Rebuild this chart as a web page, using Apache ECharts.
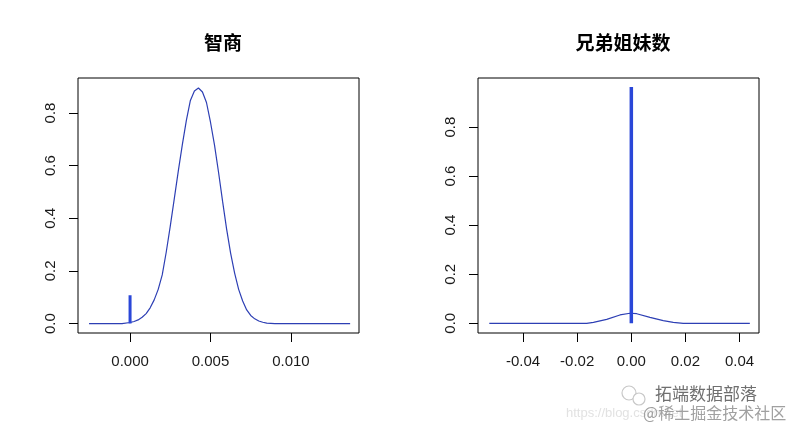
<!DOCTYPE html>
<html>
<head>
<meta charset="utf-8">
<script src="https://cdn.jsdelivr.net/npm/echarts@6/dist/echarts.min.js"></script>
<style>html,body{margin:0;padding:0;background:#fff;}#c{width:800px;height:431px;}</style>
</head>
<body>
<div id="c"></div>
<script>
// Titles
var titleLeft = '智商';
var titleRight = '兄弟姐妹数';

// Left panel: density curve (x, y)
var leftX = [-0.00255, -0.0005, 0.0000, 0.00025, 0.0005, 0.00075, 0.0010, 0.00125, 0.0015, 0.00175, 0.0020, 0.00225, 0.0025, 0.00275, 0.0030, 0.00325, 0.0035, 0.00375, 0.0040, 0.00425, 0.0045, 0.00475, 0.0050, 0.00525, 0.0055, 0.00575, 0.0060, 0.00625, 0.0065, 0.00675, 0.0070, 0.00725, 0.0075, 0.00775, 0.0080, 0.00825, 0.0085, 0.0090, 0.01368];
var leftY = [0.000, 0.000, 0.004, 0.008, 0.014, 0.024, 0.038, 0.060, 0.090, 0.130, 0.185, 0.272, 0.370, 0.475, 0.580, 0.680, 0.772, 0.848, 0.884, 0.895, 0.880, 0.840, 0.765, 0.678, 0.575, 0.465, 0.360, 0.268, 0.192, 0.130, 0.086, 0.052, 0.031, 0.018, 0.010, 0.005, 0.002, 0.000, 0.000];
// Left spike
var leftSpikeX = [0, 0];
var leftSpikeY = [0, 0.108];

// Right panel: density curve
var rightX = [-0.0525, -0.0165, -0.014, -0.0091, -0.0042, -0.0005, 0.002, 0.0069, 0.0118, 0.0155, 0.0192, 0.0438];
var rightY = [0, 0, 0.004, 0.016, 0.034, 0.041, 0.039, 0.024, 0.011, 0.004, 0, 0];
// Right spike
var rightSpikeX = [0, 0];
var rightSpikeY = [0, 0.963];

// Tick values / labels
var leftXTicks = [0, 0.005, 0.010];
var leftXLabels = ['0.000', '0.005', '0.010'];
var leftYTicks = [0, 0.2, 0.4, 0.6, 0.8];
var leftYLabels = ['0.0', '0.2', '0.4', '0.6', '0.8'];
var rightXTicks = [-0.04, -0.02, 0, 0.02, 0.04];
var rightXLabels = ['-0.04', '-0.02', '0.00', '0.02', '0.04'];
var rightYTicks = [0, 0.2, 0.4, 0.6, 0.8];
var rightYLabels = ['0.0', '0.2', '0.4', '0.6', '0.8'];

function pairs(xs, ys) { return xs.map(function (x, i) { return [x, ys[i]]; }); }
function labelFmt(ticks, labels) {
  return function (v) {
    for (var i = 0; i < ticks.length; i++) { if (Math.abs(ticks[i] - v) < 1e-9) return labels[i]; }
    return '';
  };
}

var FONT = 'Liberation Sans, Arial, sans-serif';
var CJK = 'Noto Sans CJK SC';
var lineColor = '#2d3fb4';
var spikeColor = '#2a47d8';

function xAxis(idx, min, max, ticks, labels) {
  return {
    type: 'value', gridIndex: idx, min: min, max: max, position: 'bottom',
    axisLine: { show: false, onZero: false },
    splitLine: { show: false },
    axisTick: { show: true, inside: false, length: 9, customValues: ticks, lineStyle: { color: '#000', width: 1 } },
    axisLabel: { show: true, margin: 21, customValues: ticks, formatter: labelFmt(ticks, labels), fontFamily: FONT, fontSize: 15, color: '#1a1a1a' }
  };
}
function yAxis(idx, min, max, ticks, labels) {
  return {
    type: 'value', gridIndex: idx, min: min, max: max, position: 'left',
    axisLine: { show: false, onZero: false },
    splitLine: { show: false },
    axisTick: { show: true, inside: false, length: 9, customValues: ticks, lineStyle: { color: '#000', width: 1 } },
    axisLabel: { show: true, margin: 20, rotate: 90, customValues: ticks, formatter: labelFmt(ticks, labels), fontFamily: FONT, fontSize: 15, color: '#1a1a1a' }
  };
}

var chart = echarts.init(document.getElementById('c'), null, { renderer: 'canvas' });
chart.setOption({
  animation: false,
  backgroundColor: '#fff',
  title: [
    { text: titleLeft, left: 218, top: 28, textAlign: 'center', textStyle: { fontFamily: CJK, fontSize: 19, fontWeight: 'bold', color: '#000' } },
    { text: titleRight, left: 618, top: 28, textAlign: 'center', textStyle: { fontFamily: CJK, fontSize: 19, fontWeight: 'bold', color: '#000' } }
  ],
  grid: [
    { left: 78, top: 78, width: 281, height: 255, show: true, borderColor: '#000', borderWidth: 1, backgroundColor: 'transparent', containLabel: false },
    { left: 478, top: 78, width: 281, height: 255, show: true, borderColor: '#000', borderWidth: 1, backgroundColor: 'transparent', containLabel: false }
  ],
  xAxis: [
    xAxis(0, -0.003236, 0.014231, leftXTicks, leftXLabels),
    xAxis(1, -0.05667, 0.04719, rightXTicks, rightXLabels)
  ],
  yAxis: [
    yAxis(0, -0.0358, 0.9331, leftYTicks, leftYLabels),
    yAxis(1, -0.0396, 1.0, rightYTicks, rightYLabels)
  ],
  series: [
    { type: 'line', xAxisIndex: 0, yAxisIndex: 0, data: pairs(leftX, leftY), showSymbol: false, smooth: false, lineStyle: { color: lineColor, width: 1.2 }, silent: true },
    { type: 'line', xAxisIndex: 0, yAxisIndex: 0, data: pairs(leftSpikeX, leftSpikeY), showSymbol: false, lineStyle: { color: spikeColor, width: 3 }, silent: true },
    { type: 'line', xAxisIndex: 1, yAxisIndex: 1, data: pairs(rightX, rightY), showSymbol: false, lineStyle: { color: lineColor, width: 1.2 }, silent: true },
    { type: 'line', xAxisIndex: 1, yAxisIndex: 1, data: pairs(rightSpikeX, rightSpikeY), showSymbol: false, lineStyle: { color: spikeColor, width: 3.5 }, silent: true }
  ],
  graphic: [
    { type: 'text', left: 566, top: 407, style: { text: 'https://blog.csdn.net', font: '13px ' + FONT, fill: '#e2e2e2' }, silent: true },
    { type: 'circle', shape: { cx: 629, cy: 393, r: 7 }, style: { fill: 'none', stroke: '#c8c8c8', lineWidth: 1.2 }, silent: true },
    { type: 'circle', shape: { cx: 639, cy: 399, r: 6 }, style: { fill: '#fff', stroke: '#c8c8c8', lineWidth: 1.2 }, silent: true },
    { type: 'text', left: 655, top: 385, style: { text: '拓端数据部落', font: '17px "Noto Sans CJK SC"', fill: '#6f6f6f' }, silent: true },
    { type: 'text', left: 643, top: 405, style: { text: '@稀土掘金技术社区', font: '16px "Noto Sans CJK SC"', fill: '#a0a0a0' }, silent: true }
  ]
});
</script>
</body>
</html>
